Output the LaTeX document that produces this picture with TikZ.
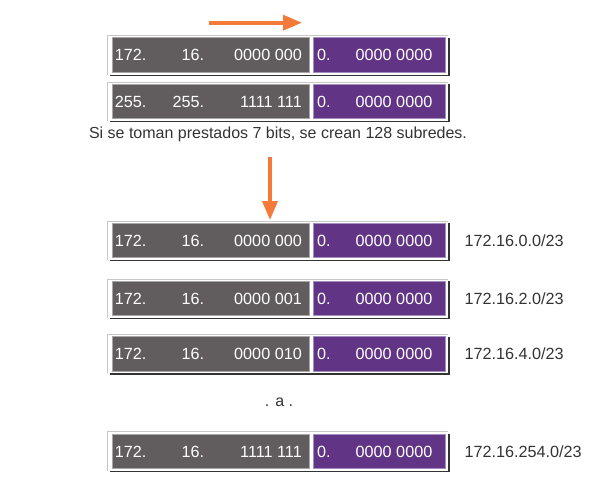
\documentclass[tikz,border=0pt]{standalone}
\usepackage{fontspec}
\setmainfont{Liberation Sans}
\usetikzlibrary{arrows.meta}
\definecolor{boxgray}{HTML}{615C5D}
\definecolor{boxpurple}{HTML}{613485}
\definecolor{graybord}{HTML}{A9A6A7}
\definecolor{purpbord}{HTML}{A48DBF}
\definecolor{arroworange}{HTML}{F47A3A}
\definecolor{labelgray}{HTML}{333333}
\tikzset{
  txt/.style={font=\fontsize{16.2}{19}\selectfont, inner sep=0pt, text=white},
  lbl/.style={font=\fontsize{16.2}{19}\selectfont, inner sep=0pt, text=labelgray},
  captxt/.style={font=\fontsize{16}{19}\selectfont, inner sep=0pt, text=labelgray},
  graybox/.style={fill=boxgray, draw=graybord, line width=0.8pt, minimum width=196.4pt, minimum height=34.6pt, inner sep=0pt},
  purpbox/.style={fill=boxpurple, draw=purpbord, line width=0.8pt, minimum width=132.2pt, minimum height=34.6pt, inner sep=0pt},
  oarrow/.style={draw=arroworange, line width=3.6pt, -{Triangle[length=19pt,width=15pt]}},
}
\newcommand\iprow[7]{%
  \fill[black!80] (109.5,#2-17) rectangle (449.5,#2+21);
  \fill[white] (107.5,#2-19.5) rectangle (447.5,#2+19.5);
  \draw[black!22, line width=0.6pt] (107.5,#2+19.5) -- (107.5,#2-19.5) -- (447.5,#2-19.5);
  \node[graybox] (#1g) at (210.9,#2) {};
  \node[purpbox] (#1p) at (379.2,#2) {};
  \node[txt, anchor=base east] (#1a) at (146.6,#2+5.8) {#3};
  \node[txt, anchor=base east] (#1b) at (204.4,#2+5.8) {#4};
  \node[txt, anchor=base east] (#1c) at (302,#2+5.8) {#5};
  \node[txt, anchor=base west] (#1d) at (317,#2+5.8) {0.};
  \node[txt, anchor=base east] (#1e) at (432.5,#2+5.8) {0000 0000};
  \node[lbl, anchor=base west] (#1l) at (464.3,#2+5.8) {#6};
}
\begin{document}
\begin{tikzpicture}[x=1pt,y=-1pt]
  \useasboundingbox (0,0) rectangle (607,485);
  % top arrow
  \coordinate (h1) at (209,22.7);
  \coordinate (h2) at (302,22.7);
  \draw[oarrow] (h1) -- (h2);
  \iprow{ra}{55}{172.}{16.}{0000 000}{}{}
  \iprow{rb}{101.3}{255.}{255.}{1111 111}{}{}
  \node[captxt, anchor=base] (cap) at (278,138.7) {Si se toman prestados 7 bits, se crean 128 subredes.};
  \coordinate (v1) at (270,157);
  \coordinate (v2) at (270,220);
  \draw[oarrow] (v1) -- (v2);
  \iprow{rc}{240.3}{172.}{16.}{0000 000}{172.16.0.0/23}{}
  \iprow{rd}{298.3}{172.}{16.}{0000 001}{172.16.2.0/23}{}
  \iprow{re}{353.7}{172.}{16.}{0000 010}{172.16.4.0/23}{}
  \node[captxt, anchor=base] (dots) at (279,406) {. a .};
  \iprow{rf}{451.2}{172.}{16.}{1111 111}{172.16.254.0/23}{}
\end{tikzpicture}
\end{document}
